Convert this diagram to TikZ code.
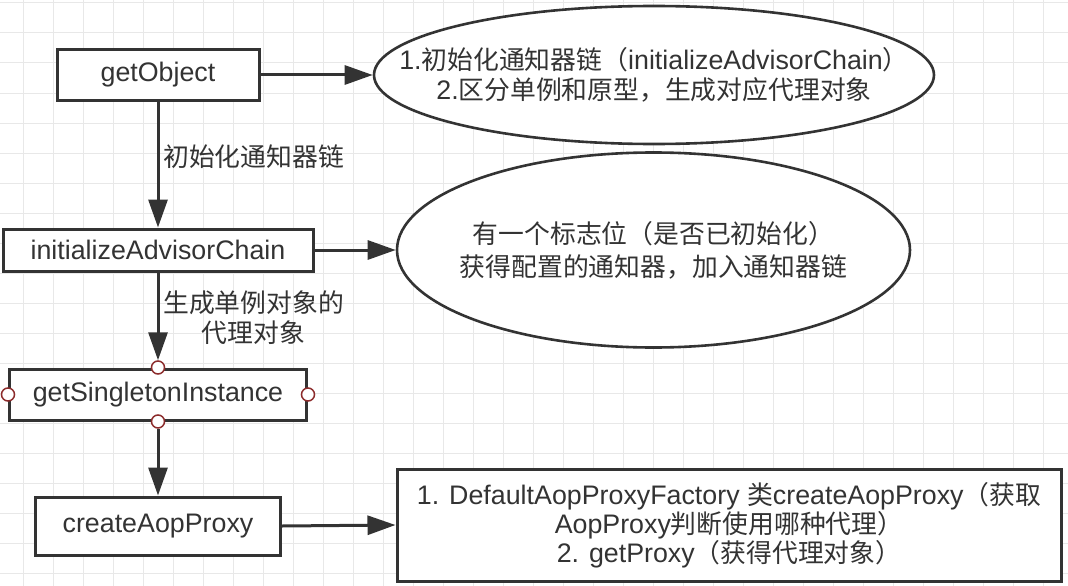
\documentclass[tikz,border=0pt]{standalone}
\usepackage{fontspec}
\setmainfont{Liberation Sans}
\newfontfamily\cjk{Noto Sans CJK SC}[Scale=0.963]
\usetikzlibrary{shapes.geometric,arrows.meta}
\definecolor{ink}{HTML}{333333}
\definecolor{gridc}{HTML}{E8E8E8}
\definecolor{pinc}{HTML}{8C2B2B}
\begin{document}
\begin{tikzpicture}[x=1pt,y=-1pt]
	\tikzset{box/.style={draw=ink,fill=white,line width=3pt,rectangle,inner sep=0pt,text=ink,font=\fontsize{26.8}{30}\selectfont},
		oval/.style={draw=ink,fill=white,line width=2.6pt,ellipse,inner ysep=0pt,inner xsep=-60pt,text=ink,align=center,font=\fontsize{26.8}{30}\selectfont},
		arr/.style={draw=ink,line width=3pt,-{Triangle[length=28pt,width=19pt]}},
		lab/.style={text=ink,align=center,inner sep=5pt,font=\cjk\fontsize{26.8}{30}\selectfont},
		pin/.style={circle,draw=pinc,fill=white,line width=1.5pt,minimum size=13pt,inner sep=0pt}}
	\useasboundingbox[fill=white](0,0)rectangle(1068,586);
	%% grid
	\foreach \x in {23,53,...,1068} \draw[gridc,line width=1pt](\x,0)--(\x,586);
	\foreach \y in {3,33,...,586} \draw[gridc,line width=1pt](0,\y)--(1068,\y);
	%% left column
	\node[box,minimum width=202pt,minimum height=50pt](gob)at(158,75){getObject};
	\node[box,minimum width=310pt,minimum height=42pt](iac)at(158,250){initializeAdvisorChain};
	\node[box,minimum width=297pt,minimum height=51pt](gsi)at(158,394.5){getSingletonInstance};
	\node[box,minimum width=245pt,minimum height=58pt](cap)at(158,526){createAopProxy};
	\foreach \p in {north,south,east,west} \node[pin](p\p)at(gsi.\p){};
	%% right column
	\node[oval,minimum width=560pt,minimum height=138pt](ell1)at(654,75){1.{\cjk 初始化通知器链（}initializeAdvisorChain{\cjk ）}\\2.{\cjk 区分单例和原型，生成对应代理对象}};
	\node[oval,inner xsep=-20pt,minimum width=513pt,minimum height=195pt,font=\cjk\fontsize{26.8}{33}\selectfont](ell2)at(653.5,250){有一个标志位（是否已初始化）\\获得配置的通知器，加入通知器链};
	\node[box,minimum width=664pt,minimum height=112pt,align=center,font=\fontsize{26.8}{29}\selectfont](res)at(729,525){1. DefaultAopProxyFactory {\cjk 类}createAopProxy{\cjk （获取}\\AopProxy{\cjk 判断使用哪种代理）}\\2. getProxy{\cjk （获得代理对象）}};
	%% connectors
	\foreach \a/\b in {gob/ell1,iac/ell2,cap/res}
	\draw[arr](\a.east)--(\b.west);
	\foreach \a/\b in {gob/iac,iac/pnorth,psouth/cap}
	\draw[arr](\a.south)--(\b.north);
	\path(gob.south)--(iac.north)node[pos=0.44,right,lab]{初始化通知器链}
	(iac.south)--(pnorth.north)node[pos=0.51,right,lab]{生成单例对象的\\代理对象};
\end{tikzpicture}
\end{document}
